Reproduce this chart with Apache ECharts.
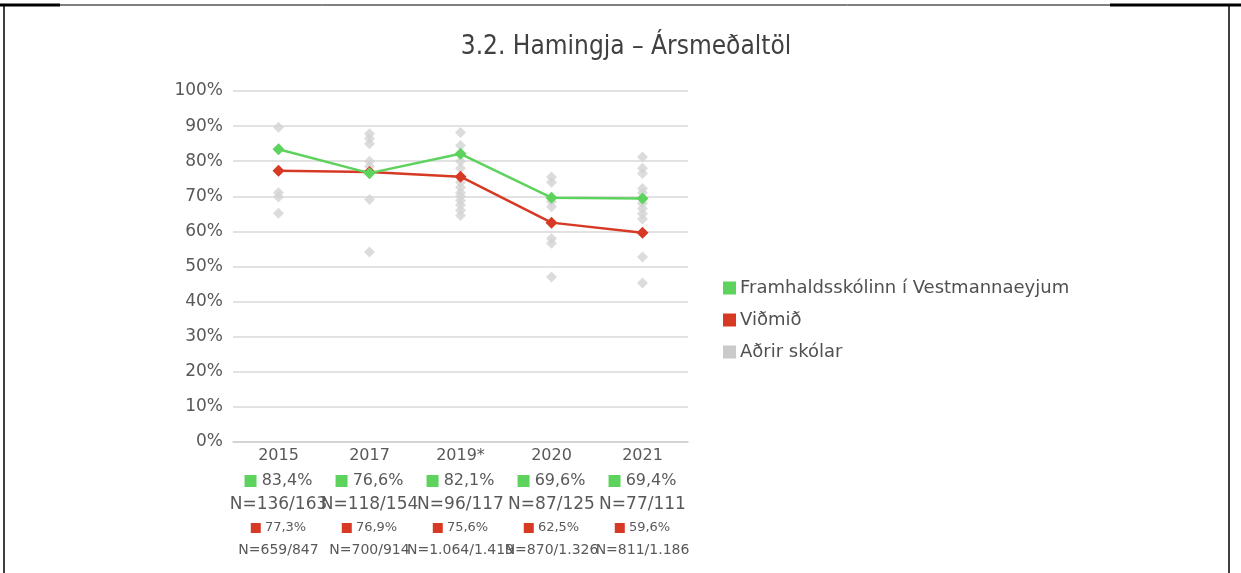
<!DOCTYPE html>
<html>
<head>
<meta charset="utf-8">
<title>3.2. Hamingja – Ársmeðaltöl</title>
<script src="https://cdn.jsdelivr.net/npm/echarts@6/dist/echarts.min.js"></script>
<style>
  html, body { margin: 0; padding: 0; background: #fff; }
  #main { width: 1241px; height: 573px; }
</style>
</head>
<body>
<div id="main"></div>
<script>
var years = ['2015', '2017', '2019*', '2020', '2021'];
var skolinn = [83.4, 76.6, 82.1, 69.6, 69.4];
var vidmid = [77.3, 76.9, 75.6, 62.5, 59.6];
var skolinnN = ['136/163', '118/154', '96/117', '87/125', '77/111'];
var vidmidN = ['659/847', '700/914', '1.064/1.419', '870/1.326', '811/1.186'];
// aðrir skólar, eitt fylki fyrir hvert ár
var adrir2015 = [89.7, 71.0, 69.8, 65.2];
var adrir2017 = [87.8, 86.5, 85.0, 80.0, 78.5, 69.1, 54.1];
var adrir2019 = [88.2, 84.5, 80.0, 78.0, 74.0, 72.5, 71.0, 70.0, 68.8, 67.5, 66.0, 64.5];
var adrir2020 = [75.5, 74.0, 68.5, 67.0, 58.0, 56.6, 47.0];
var adrir2021 = [81.2, 78.0, 76.5, 72.2, 71.0, 68.0, 66.5, 65.0, 63.5, 52.7, 45.3];
var yTicks = [0, 10, 20, 30, 40, 50, 60, 70, 80, 90, 100];

var GREEN = '#5dd35d', RED = '#d63a25', GREY = '#d3d3d3';
var FONT = '"DejaVu Sans", "Open Sans", sans-serif';

var adrir = [];
[adrir2015, adrir2017, adrir2019, adrir2020, adrir2021].forEach(function(arr, i) {
    arr.forEach(function(v) { adrir.push([years[i], v]); });
});

function pct(v) { return v.toFixed(1).replace('.', ',') + '%'; }

var chartDom = document.getElementById('main');
var myChart = echarts.init(chartDom);
var option;

option = {
    animation: false,
    textStyle: { fontFamily: FONT },
    title: {
        text: '3.2. Hamingja – Ársmeðaltöl',
        left: 621, top: 29, textAlign: 'center',
        textStyle: { fontSize: 26, fontWeight: 'normal', color: '#404040', fontFamily: '"DejaVu Sans Condensed", "Open Sans", sans-serif' }
    },
    grid: { left: 233, right: 1241 - 688, top: 91, bottom: 573 - 442, containLabel: false },
    legend: {
        orient: 'vertical', left: 718, top: 274,
        icon: 'rect', itemWidth: 13, itemHeight: 13, itemGap: 14,
        data: ['Framhaldsskólinn í Vestmannaeyjum', 'Viðmið',
            { name: 'Aðrir skólar', itemStyle: { color: '#bdbdbd' } }],
        textStyle: { fontSize: 18, color: '#505050', padding: [0, 0, 0, -1], fontFamily: FONT }
    },
    xAxis: {
        type: 'category',
        data: years,
        boundaryGap: true,
        axisLine: { lineStyle: { color: '#d0d0d0', width: 1.5 } },
        axisTick: { show: false },
        axisLabel: {
            interval: 0, margin: 2, color: '#595959',
            formatter: function(val, idx) {
                return '{y|' + val + '}\n{g|}{gt| ' + pct(skolinn[idx]) + '}\n{n|N=' + skolinnN[idx] +
                    '}\n{r|}{rt| ' + pct(vidmid[idx]) + '}\n{s|N=' + vidmidN[idx] + '}';
            },
            rich: {
                y: { fontSize: 16, lineHeight: 24, color: '#595959', fontFamily: FONT },
                g: { width: 12, height: 12, backgroundColor: GREEN },
                gt: { fontSize: 16, lineHeight: 26, color: '#595959', fontFamily: FONT },
                n: { fontSize: 17, lineHeight: 22, color: '#595959', fontFamily: FONT },
                r: { width: 10, height: 10, backgroundColor: RED },
                rt: { fontSize: 13, lineHeight: 24, color: '#595959', fontFamily: FONT },
                s: { fontSize: 14, lineHeight: 20, color: '#595959', fontFamily: FONT }
            }
        }
    },
    yAxis: {
        type: 'value', min: yTicks[0], max: yTicks[yTicks.length - 1], interval: 10,
        axisLine: { show: false }, axisTick: { show: false },
        axisLabel: { formatter: '{value}%', fontSize: 17, color: '#595959', margin: 10, fontFamily: FONT },
        splitLine: { lineStyle: { color: '#d9d9d9', width: 1.5 } }
    },
    series: [
        {
            name: 'Aðrir skólar', type: 'scatter', data: adrir, z: 1,
            symbol: 'diamond', symbolSize: 11,
            itemStyle: { color: GREY }
        },
        {
            name: 'Viðmið', type: 'line', data: vidmid, z: 3,
            symbol: 'diamond', symbolSize: 12,
            lineStyle: { color: RED, width: 2.5 },
            itemStyle: { color: RED }
        },
        {
            name: 'Framhaldsskólinn í Vestmannaeyjum', type: 'line', data: skolinn, z: 4,
            symbol: 'diamond', symbolSize: 12,
            lineStyle: { color: GREEN, width: 2.5 },
            itemStyle: { color: GREEN }
        }
    ],
    graphic: [
        { type: 'line', shape: { x1: 0, y1: 5, x2: 60, y2: 5 }, style: { stroke: '#000', lineWidth: 3 } },
        { type: 'line', shape: { x1: 60, y1: 5, x2: 1110, y2: 5 }, style: { stroke: '#000', lineWidth: 1 } },
        { type: 'line', shape: { x1: 1110, y1: 5, x2: 1241, y2: 5 }, style: { stroke: '#000', lineWidth: 3 } },
        { type: 'line', shape: { x1: 4, y1: 5, x2: 4, y2: 573 }, style: { stroke: '#000', lineWidth: 1.5 } },
        { type: 'line', shape: { x1: 1229, y1: 5, x2: 1229, y2: 573 }, style: { stroke: '#000', lineWidth: 1.5 } }
    ]
};

option && myChart.setOption(option);
</script>
</body>
</html>
